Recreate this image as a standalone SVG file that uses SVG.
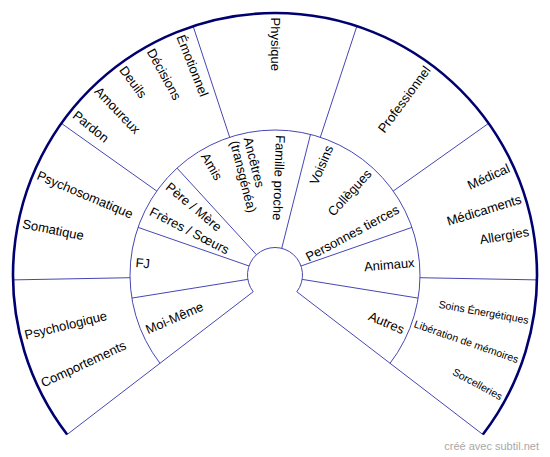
<svg xmlns="http://www.w3.org/2000/svg" width="550" height="457" viewBox="0 0 550 457">
<style>
.t{font-family:"Liberation Sans",Arial,Helvetica,sans-serif;font-size:13px;fill:#000}
.s{font-size:10.5px}
.l{text-anchor:start}
.r{text-anchor:end}
.thin{stroke:#4646b4;stroke-width:1;fill:none}
.thick{stroke:#000070;stroke-width:2.6;fill:none}
.foot{font-family:"Liberation Sans",Arial,sans-serif;font-size:11px;fill:#a8a8a8;text-anchor:end}
</style>
<rect width="550" height="457" fill="#fff"/>
<g id="connectors">
<path class="thin" d="M253.18,291.74 A27.5,27.5 0 1 1 296.82,291.74"/>
<path class="thin" d="M159.96,363.27 A145,145 0 1 1 390.04,363.27"/>
<path class="thin" d="M253.18,291.74 L67.14,434.5 M296.82,291.74 L482.86,434.5"/>
<path class="thin" d="M229.68,137.27 L193.11,26.13 M320.32,137.27 L356.89,26.13 M156.77,191.06 L61.37,123.33 M393.23,191.06 L488.63,123.33 M130.02,277.71 L13.04,279.9 M419.98,277.71 L536.96,279.9"/>
<path class="thin" d="M247.85,279.38 L131.85,298.1 M302.15,279.38 L418.15,298.1 M249.02,265.97 L138.04,227.39 M300.98,265.97 L411.96,227.39 M256.42,254.72 L177.04,168.09 M281.73,248.34 L310.49,134.41"/>
<path class="thick" d="M67.14,434.5 A262,262 0 1 1 482.86,434.5"/>
</g>
<g id="outer-psychologique">
<text class="t l" x="17.5" y="275" dy="0.32em" transform="rotate(-13.6 275 275)">Psychologique</text>
<text class="t l" x="17.5" y="275" dy="0.32em" transform="rotate(-25 275 275)">Comportements</text>
</g>
<g id="outer-psychosomatique">
<text class="t l" x="17.5" y="275" dy="0.32em" transform="rotate(22.85 275 275)">Psychosomatique</text>
<text class="t l" x="17.5" y="275" dy="0.32em" transform="rotate(11.45 275 275)">Somatique</text>
</g>
<g id="outer-emotionnel">
<text class="t l" x="17.5" y="275" dy="0.32em" transform="rotate(68.4 275 275)">Émotionnel</text>
<text class="t l" x="17.5" y="275" dy="0.32em" transform="rotate(61 275 275)">Décisions</text>
<text class="t l" x="17.5" y="275" dy="0.32em" transform="rotate(53.6 275 275)">Deuils</text>
<text class="t l" x="17.5" y="275" dy="0.32em" transform="rotate(46.2 275 275)">Amoureux</text>
<text class="t l" x="17.5" y="275" dy="0.32em" transform="rotate(38.8 275 275)">Pardon</text>
</g>
<g id="outer-physique">
<text class="t l" x="17.5" y="275" dy="0.32em" transform="rotate(90 275 275)">Physique</text>
</g>
<g id="outer-professionnel">
<text class="t r" x="532.5" y="275" dy="0.32em" transform="rotate(-53.57 275 275)">Professionnel</text>
</g>
<g id="outer-medical">
<text class="t r" x="532.5" y="275" dy="0.32em" transform="rotate(-24.64 275 275)">Médical</text>
<text class="t r" x="532.5" y="275" dy="0.32em" transform="rotate(-17.14 275 275)">Médicaments</text>
<text class="t r" x="532.5" y="275" dy="0.32em" transform="rotate(-9.64 275 275)">Allergies</text>
</g>
<g id="outer-soins">
<text class="t s r" x="532.5" y="275" dy="0.32em" transform="rotate(10.19 275 275)">Soins Énergétiques</text>
<text class="t s r" x="532.5" y="275" dy="0.32em" transform="rotate(19.29 275 275)">Libération de mémoires</text>
<text class="t s r" x="532.5" y="275" dy="0.32em" transform="rotate(28.39 275 275)">Sorcelleries</text>
</g>
<g id="inner-moi-meme">
<text class="t l" x="135" y="275" dy="0.32em" transform="rotate(-23.33 275 275)">Moi-Même</text>
</g>
<g id="inner-fj">
<text class="t l" x="135" y="275" dy="0.32em" transform="rotate(5 275 275)">FJ</text>
</g>
<g id="inner-parents">
<text class="t l" x="135" y="275" dy="0.32em" transform="rotate(39.8 275 275)">Père / Mère</text>
<text class="t l" x="135" y="275" dy="0.32em" transform="rotate(27.2 275 275)">Frères / Sœurs</text>
</g>
<g id="inner-famille">
<text class="t l" x="135" y="275" dy="0.32em" transform="rotate(59.6 275 275)">Amis</text>
<text class="t l" x="135" y="268" dy="0.32em" transform="rotate(75.83 275 275)">Ancêtres</text>
<text class="t l" x="135" y="282" dy="0.32em" transform="rotate(75.83 275 275)">(transgénéa)</text>
<text class="t l" x="135" y="275" dy="0.32em" transform="rotate(92.1 275 275)">Famille proche</text>
</g>
<g id="inner-voisins">
<text class="t r" x="415" y="275" dy="0.32em" transform="rotate(-67 275 275)">Voisins</text>
<text class="t r" x="415" y="275" dy="0.32em" transform="rotate(-47.6 275 275)">Collègues</text>
<text class="t r" x="415" y="275" dy="0.32em" transform="rotate(-28.2 275 275)">Personnes tierces</text>
</g>
<g id="inner-animaux">
<text class="t r" x="415" y="275" dy="0.32em" transform="rotate(-5 275 275)">Animaux</text>
</g>
<g id="inner-autres">
<text class="t r" x="415" y="275" dy="0.32em" transform="rotate(23.33 275 275)">Autres</text>
</g>
<text class="foot" x="539" y="450">créé avec subtil.net</text>
</svg>
